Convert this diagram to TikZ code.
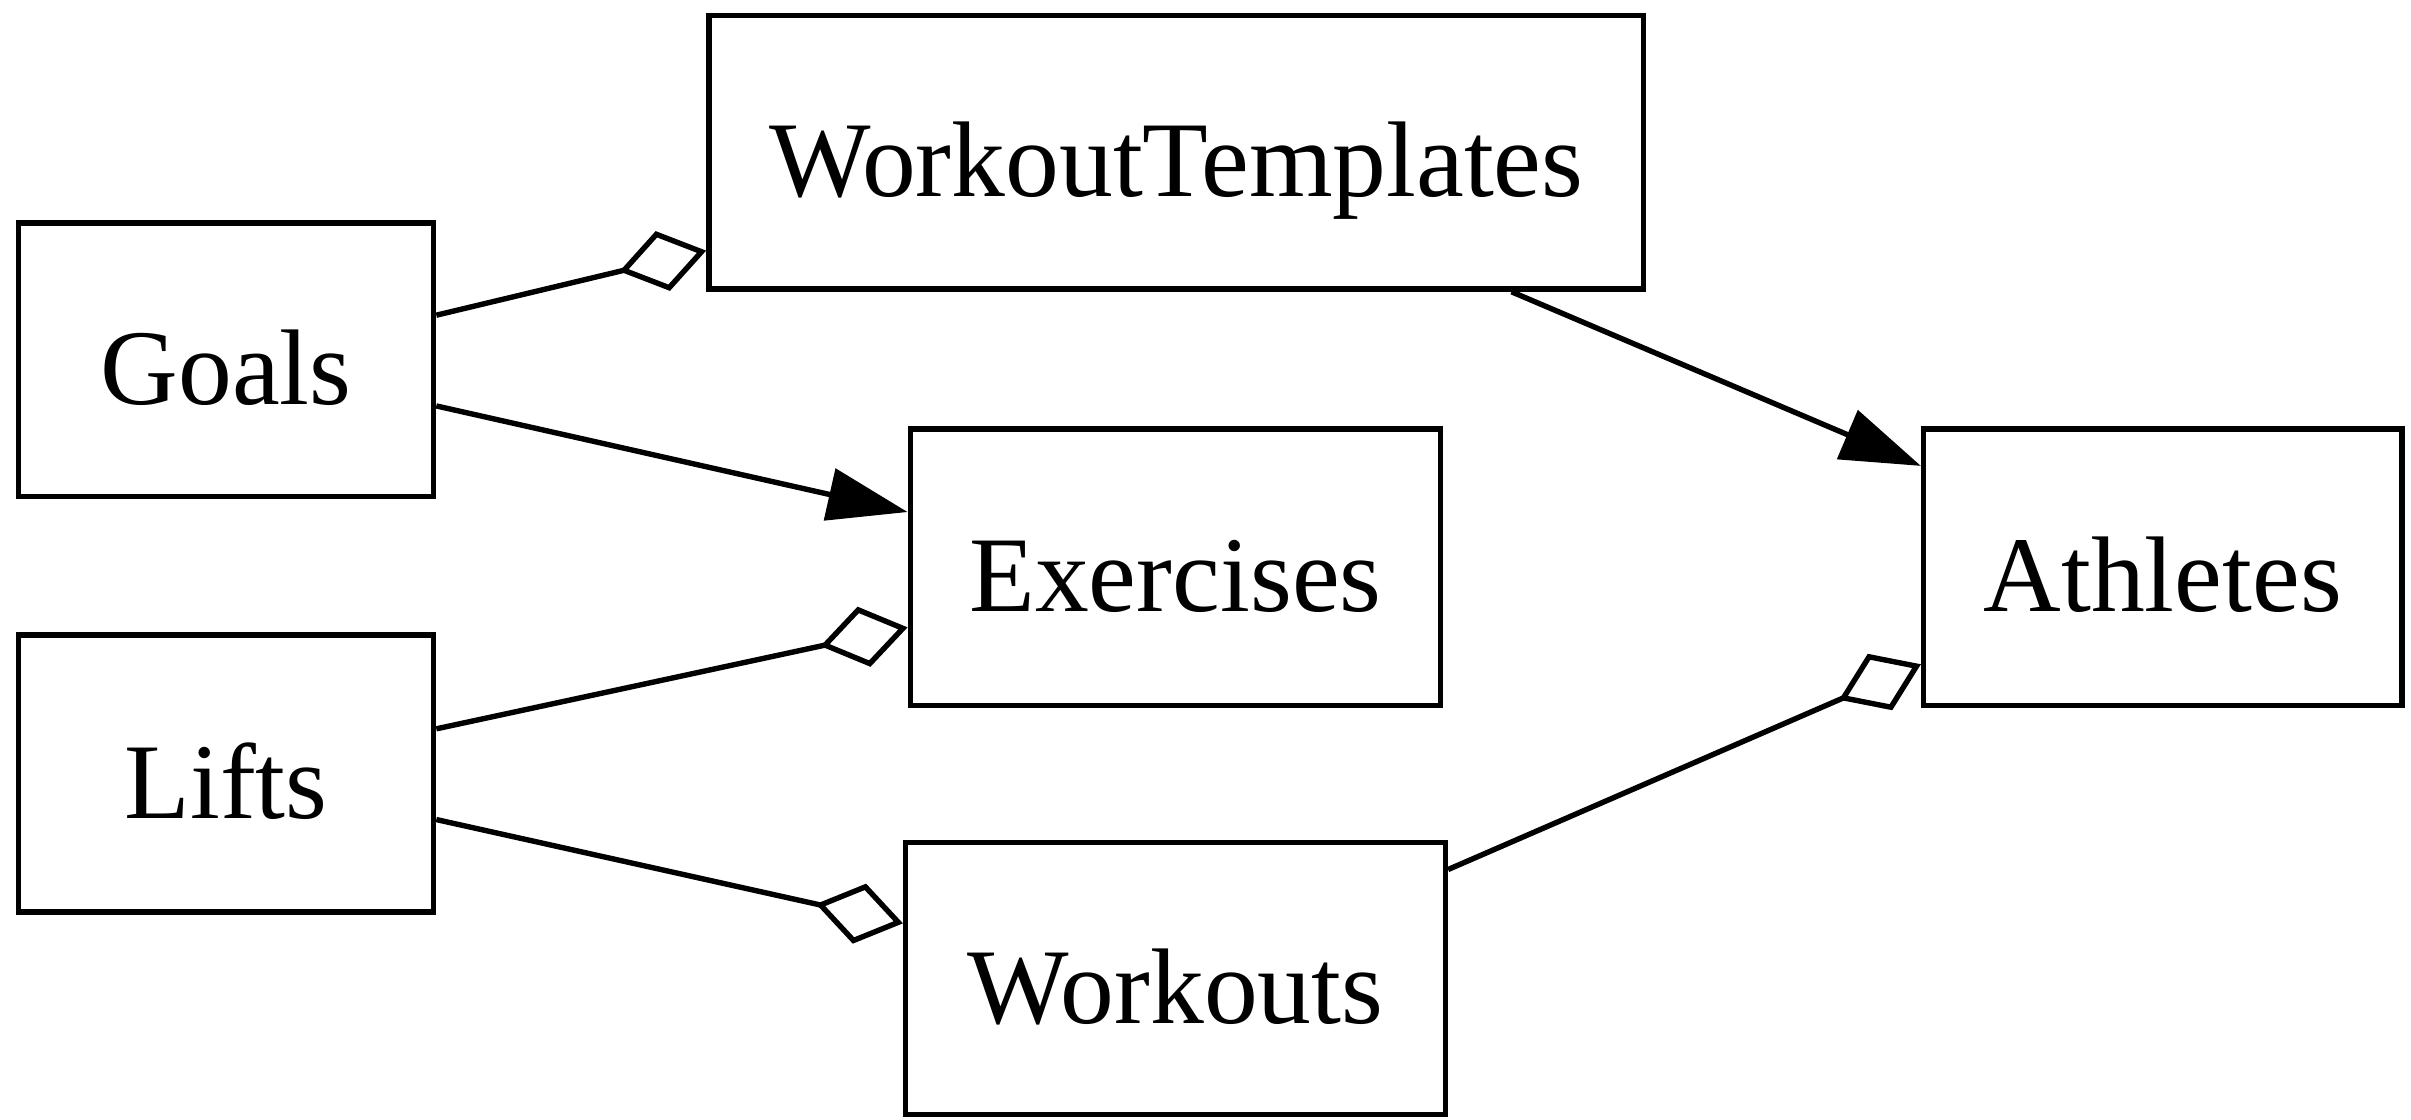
\documentclass[tikz,border=0pt]{standalone}
\usepackage{fontspec}
\setmainfont{Liberation Serif}
\usetikzlibrary{arrows.meta}

\tikzset{
  box/.style={draw, line width=1pt, inner sep=0pt, text height=0.58cm, text depth=0pt,
    font=\fontsize{19.9}{24}\selectfont},
  dep/.style={line width=1pt, -{Triangle[length=0.52cm, width=0.34cm]}},
  agg/.style={line width=1pt, -{Diamond[open, length=0.58cm, width=0.40cm]}}
}

\begin{document}
\begin{tikzpicture}
      \useasboundingbox (0,0) rectangle (15.68,-7.28);
      % Tables
      \node[box, minimum width=2.70cm, minimum height=1.78cm] (goals) at (1.47,-2.34) {Goals};
      \node[box, minimum width=2.70cm, minimum height=1.80cm] (lifts) at (1.47,-5.03) {Lifts};
      \node[box, minimum width=6.08cm, minimum height=1.78cm] (templates) at (7.65,-0.99) {WorkoutTemplates};
      \node[box, minimum width=3.45cm, minimum height=1.80cm] (exercises) at (7.645,-3.69) {Exercises};
      \node[box, minimum width=3.51cm, minimum height=1.77cm] (workouts) at (7.645,-6.365) {Workouts};
      \node[box, minimum width=3.11cm, minimum height=1.80cm] (athletes) at (14.065,-3.69) {Athletes};
      % Relations
      \draw[agg] ([yshift=0.29cm]goals.east) -- ([yshift=-0.64cm]templates.west);
      \draw[dep] ([yshift=-0.30cm]goals.east) -- ([yshift=0.36cm]exercises.west);
      \draw[agg] ([yshift=0.29cm]lifts.east) -- ([yshift=-0.39cm]exercises.west);
      \draw[agg] ([yshift=-0.30cm]lifts.east) -- ([yshift=0.36cm]workouts.west);
      \draw[dep] ([xshift=2.18cm]templates.south) -- ([yshift=0.66cm]athletes.west);
      \draw[agg] ([yshift=0.71cm]workouts.east) -- ([yshift=-0.63cm]athletes.west);
    \end{tikzpicture}
\end{document}
